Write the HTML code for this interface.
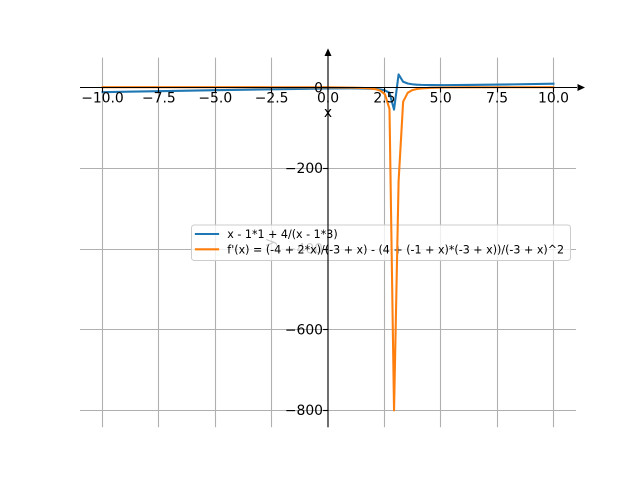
<!DOCTYPE html>
<html>
<head>
<meta charset="utf-8">
<style>
html,body{margin:0;padding:0;background:#fff;}
svg{display:block;}
text{font-family:"DejaVu Sans","Liberation Sans",sans-serif;fill:#000;}
</style>
</head>
<body>
<svg width="640" height="480" viewBox="0 0 640 480" xmlns="http://www.w3.org/2000/svg">
<rect x="0" y="0" width="640" height="480" fill="#fff"/>
<!-- grid -->
<g stroke="#b0b0b0" stroke-width="1.1" fill="none">
<line x1="102.5" y1="57.6" x2="102.5" y2="427.2"/>
<line x1="158.5" y1="57.6" x2="158.5" y2="427.2"/>
<line x1="215.5" y1="57.6" x2="215.5" y2="427.2"/>
<line x1="271.5" y1="57.6" x2="271.5" y2="427.2"/>
<line x1="328" y1="57.6" x2="328" y2="427.2"/>
<line x1="384.5" y1="57.6" x2="384.5" y2="427.2"/>
<line x1="440.5" y1="57.6" x2="440.5" y2="427.2"/>
<line x1="497.5" y1="57.6" x2="497.5" y2="427.2"/>
<line x1="553.5" y1="57.6" x2="553.5" y2="427.2"/>
<line x1="80" y1="87.5" x2="576" y2="87.5"/>
<line x1="80" y1="168.5" x2="576" y2="168.5"/>
<line x1="80" y1="249.5" x2="576" y2="249.5"/>
<line x1="80" y1="329.5" x2="576" y2="329.5"/>
<line x1="80" y1="410.5" x2="576" y2="410.5"/>
</g>
<!-- labels under legend -->
<text x="323" y="253.7" font-size="13.9" text-anchor="end">−400</text>
<text transform="translate(274,242.4) rotate(-90)" font-size="13.9" text-anchor="middle">y</text>
<!-- legend -->
<rect x="191.5" y="225" width="379" height="35.5" rx="2.8" ry="2.8" fill="#fff" fill-opacity="0.8" stroke="#cccccc" stroke-width="1"/>
<line x1="195.9" y1="234" x2="218.1" y2="234" stroke="#1f77b4" stroke-width="2.08" stroke-linecap="square"/>
<line x1="195.9" y1="249.3" x2="218.1" y2="249.3" stroke="#ff7f0e" stroke-width="2.08" stroke-linecap="square"/>
<text x="227.3" y="238" font-size="11.1">x - 1*1 + 4/(x - 1*3)</text>
<text x="227.3" y="253.4" font-size="11.1">f'(x) = (-4 + 2*x)/(-3 + x) - (4 + (-1 + x)*(-3 + x))/(-3 + x)^2</text>
<!-- series -->
<polyline fill="none" stroke="#1f77b4" stroke-width="2.08" stroke-linejoin="round" stroke-linecap="square"
points="102.55,92.14 158.91,91.16 215.27,90.20 271.64,89.28 305.45,88.78 328,88.51 350.55,88.38 361.82,88.45 375.82,88.96 380.38,89.42 384.93,90.36 389.49,92.80 394.04,109.64 398.60,74.40 403.15,81.78 407.71,83.53 412.26,84.27 416.81,84.66 421.37,84.89 430.48,85.09 444.14,85.14 466.91,84.97 489.69,84.69 512.46,84.36 553.45,83.70"/>
<polyline fill="none" stroke="#ff7f0e" stroke-width="2.08" stroke-linejoin="round" stroke-linecap="square"
points="102.55,87.18 215.27,87.19 282.91,87.23 328,87.35 353.05,87.62 362.16,87.90 366.71,88.15 371.27,88.55 375.82,89.26 380.38,90.69 384.93,94.34 389.49,108.90 394.04,410.41 398.60,180.90 403.15,101.71 407.71,92.80 412.26,90.14 416.81,89.00 421.37,88.41 430.48,87.84 444.14,87.52 466.91,87.33 553.45,87.20"/>
<!-- spines -->
<g stroke="#000" stroke-width="1.1">
<line x1="80" y1="87.5" x2="577" y2="87.5"/>
<line x1="328" y1="427.2" x2="328" y2="56"/>
</g>
<polygon points="577.5,84 577.5,91 585,87.5" fill="#000"/>
<polygon points="324.5,56 331.5,56 328,48.4" fill="#000"/>
<!-- ticks -->
<g stroke="#000" stroke-width="1.1">
<line x1="102.5" y1="87.5" x2="102.5" y2="92.4"/>
<line x1="158.5" y1="87.5" x2="158.5" y2="92.4"/>
<line x1="215.5" y1="87.5" x2="215.5" y2="92.4"/>
<line x1="271.5" y1="87.5" x2="271.5" y2="92.4"/>
<line x1="328" y1="87.5" x2="328" y2="92.4"/>
<line x1="384.5" y1="87.5" x2="384.5" y2="92.4"/>
<line x1="440.5" y1="87.5" x2="440.5" y2="92.4"/>
<line x1="497.5" y1="87.5" x2="497.5" y2="92.4"/>
<line x1="553.5" y1="87.5" x2="553.5" y2="92.4"/>
<line x1="323.1" y1="87.5" x2="328" y2="87.5"/>
<line x1="323.1" y1="168.5" x2="328" y2="168.5"/>
<line x1="323.1" y1="249.5" x2="328" y2="249.5"/>
<line x1="323.1" y1="329.5" x2="328" y2="329.5"/>
<line x1="323.1" y1="410.5" x2="328" y2="410.5"/>
</g>
<!-- tick labels -->
<g font-size="13.9" text-anchor="middle">
<text x="102.5" y="102.3">−10.0</text>
<text x="158.9" y="102.3">−7.5</text>
<text x="215.3" y="102.3">−5.0</text>
<text x="271.6" y="102.3">−2.5</text>
<text x="328" y="102.3">0.0</text>
<text x="384.4" y="102.3">2.5</text>
<text x="440.7" y="102.3">5.0</text>
<text x="497.1" y="102.3">7.5</text>
<text x="553.5" y="102.3">10.0</text>
</g>
<g font-size="13.9" text-anchor="end">
<text x="323" y="92.4">0</text>
<text x="323" y="172.9">−200</text>
<text x="323" y="334.4">−600</text>
<text x="323" y="415.2">−800</text>
</g>
<text x="328" y="117" font-size="13.9" text-anchor="middle">x</text>
</svg>
</body>
</html>
